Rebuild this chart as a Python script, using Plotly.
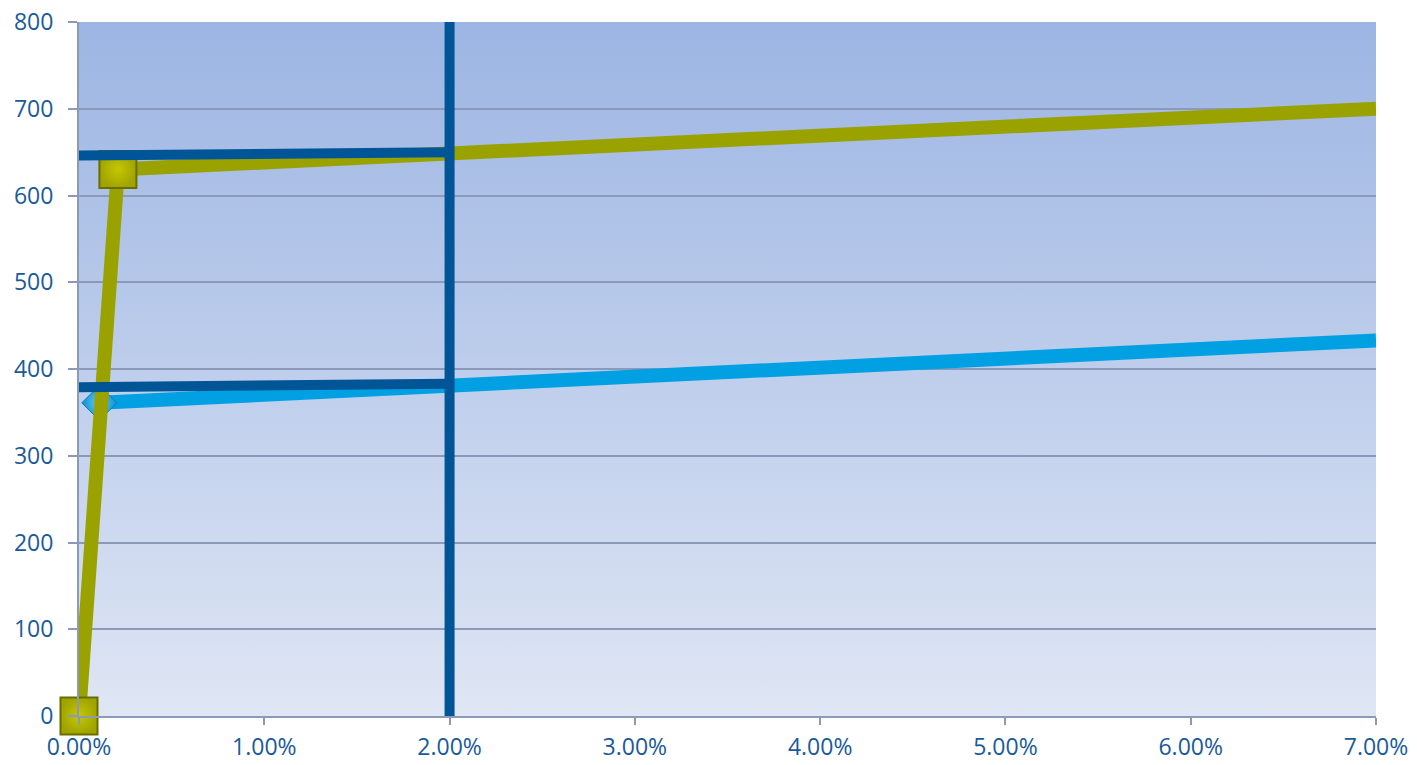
import base64
import plotly.graph_objects as go

# Series values (x as fractions, shown as percentages)
olive_x = [0.0, 0.0021, 0.07]
olive_y = [0, 630, 700]
olive_marked = [True, True, False]

cyan_x = [0.0011, 0.07]
cyan_y = [361, 433]
cyan_marked = [True, False]

# Reference lines at the 2% mark
ref_x = 0.02
ref_olive_y = [646, 650]
ref_cyan_y = [379, 383]
ref_vertical_y = [0, 800]

x_ticks = [0.0, 0.01, 0.02, 0.03, 0.04, 0.05, 0.06, 0.07]
y_ticks = [0, 100, 200, 300, 400, 500, 600, 700, 800]

OLIVE = "#9aa200"
CYAN = "#00a0e3"
NAVY = "#005597"
GRID = "#8d99b8"
LABEL = "#1a5a9a"

# vertical gradient for the plotting area
svg = (
    '<svg xmlns="http://www.w3.org/2000/svg" width="100" height="100" preserveAspectRatio="none">'
    '<defs><linearGradient id="g" x1="0" y1="0" x2="0" y2="1">'
    '<stop offset="0" stop-color="#9cb5e3"/>'
    '<stop offset="1" stop-color="#dfe6f4"/>'
    '</linearGradient></defs>'
    '<rect width="100" height="100" fill="url(#g)"/></svg>'
)
bg_src = "data:image/svg+xml;base64," + base64.b64encode(svg.encode()).decode()

fig = go.Figure()

fig.add_trace(go.Scatter(
    x=cyan_x, y=cyan_y, mode="lines+markers",
    line=dict(color=CYAN, width=14),
    marker=dict(symbol="diamond", size=[27 if m else 0 for m in cyan_marked],
                color="#0a90d2", opacity=1,
                gradient=dict(type="radial", color="#6fcdf5"),
                line=dict(color="#0a7cb8", width=1)),
    cliponaxis=False, showlegend=False, hoverinfo="x+y",
))

fig.add_trace(go.Scatter(
    x=olive_x, y=olive_y, mode="lines+markers",
    line=dict(color=OLIVE, width=14),
    marker=dict(symbol="square", size=[37 if m else 0 for m in olive_marked],
                color="#a0a400", opacity=1,
                gradient=dict(type="radial", color="#c4c800"),
                line=dict(color="#6a6c00", width=2)),
    cliponaxis=False, showlegend=False, hoverinfo="x+y",
))

fig.add_trace(go.Scatter(
    x=[0, ref_x, None, 0, ref_x, None, ref_x, ref_x],
    y=[ref_olive_y[0], ref_olive_y[1], None,
       ref_cyan_y[0], ref_cyan_y[1], None,
       ref_vertical_y[0], ref_vertical_y[1]],
    mode="lines", line=dict(color=NAVY, width=10),
    showlegend=False, hoverinfo="skip",
))

fig.add_layout_image(dict(
    source=bg_src, xref="x", yref="y", x=0, y=800, sizex=0.07, sizey=800,
    sizing="stretch", layer="below", xanchor="left", yanchor="top",
))

fig.update_layout(
    width=1417, height=765,
    margin=dict(l=79, r=41, t=22, b=49),
    paper_bgcolor="white", plot_bgcolor="white",
    font=dict(family="Open Sans", size=23, color=LABEL),
    xaxis=dict(range=[0, 0.07], tickvals=x_ticks, tickformat=".2%",
               showgrid=False, zeroline=False, automargin=False,
               showline=True, linecolor=GRID, linewidth=2,
               ticks="outside", ticklen=7, tickwidth=2, tickcolor=GRID,
               ticklabelstandoff=2,
               tickfont=dict(color=LABEL, size=23)),
    yaxis=dict(range=[0, 800], tickvals=y_ticks,
               showgrid=True, gridcolor=GRID, gridwidth=2, zeroline=False,
               automargin=False,
               showline=True, linecolor=GRID, linewidth=2,
               ticks="outside", ticklen=9, tickwidth=2, tickcolor=GRID,
               ticklabelstandoff=10,
               tickfont=dict(color=LABEL, size=23)),
)

fig.write_html("out.html")
